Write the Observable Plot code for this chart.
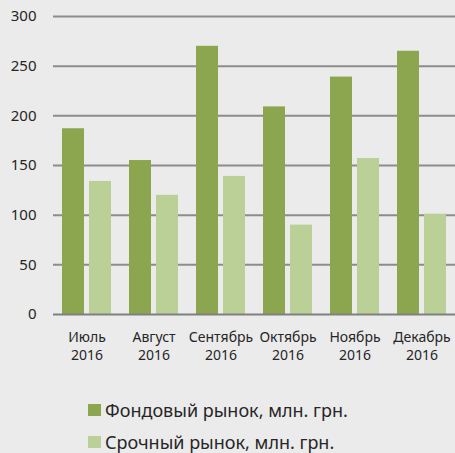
<!DOCTYPE html>
<html>
<head>
<meta charset="utf-8">
<script src="https://cdn.jsdelivr.net/npm/d3@7"></script>
<script src="https://cdn.jsdelivr.net/npm/@observablehq/plot@0.6"></script>
<style>
  html, body { margin: 0; padding: 0; background: #ebebeb; }
  #chart svg { display: block; }
  #legend { padding-top: 19px; padding-left: 88px; font-family: "Noto Sans", sans-serif; font-size: 18px; line-height: 22px; color: #262626; }
  .row { display: flex; align-items: center; height: 32px; }
  .sw { width: 13px; height: 12px; margin-right: 4px; }
</style>
</head>
<body>
<div id="chart"></div>
<div id="legend"></div>
<script>
const months = ["Июль", "Август", "Сентябрь", "Октябрь", "Ноябрь", "Декабрь"];
const year = "2016";
const seriesNames = ["Фондовый рынок, млн. грн.", "Срочный рынок, млн. грн."];
const stockValues = [187, 155, 270, 209, 239, 265];
const futuresValues = [134, 120, 139, 90, 157, 101];
const yTicks = [0, 50, 100, 150, 200, 250, 300];
const colors = ["#8ba64e", "#bbd097"];

const data = months.flatMap((m, i) => [
  {month: m, series: seriesNames[0], value: stockValues[i]},
  {month: m, series: seriesNames[1], value: futuresValues[i]}
]);

const chart = Plot.plot({
  width: 455,
  height: 375,
  marginLeft: 52,
  marginRight: 0,
  marginTop: 16,
  marginBottom: 61,
  style: {background: "#ebebeb", fontFamily: "Noto Sans", color: "#262626"},
  fx: {domain: months, padding: 0, label: null, axis: null},
  x: {domain: seriesNames, paddingInner: 0.196, paddingOuter: 0.298, axis: null},
  y: {domain: [0, 300], axis: null},
  color: {domain: seriesNames, range: colors},
  marks: [
    Plot.ruleY(yTicks.filter(d => d > 0), {stroke: "#8c8c8c", strokeWidth: 2}),
    Plot.barY(data, {fx: "month", x: "series", y: "value", fill: "series"}),
    Plot.ruleY([0], {stroke: "#808080", strokeWidth: 2}),
    Plot.axisY({ticks: yTicks, tickSize: 0, tickPadding: 17, fontSize: 15, label: null}),
    Plot.axisFx({anchor: "bottom", tickSize: 0, tickPadding: 15, fontSize: 14, lineHeight: 1.29, label: null, tickFormat: d => d + "\n" + year})
  ]
});
document.getElementById("chart").append(chart);

const legend = document.getElementById("legend");
seriesNames.forEach((name, i) => {
  const row = document.createElement("div");
  row.className = "row";
  const sw = document.createElement("span");
  sw.className = "sw";
  sw.style.background = colors[i];
  const t = document.createElement("span");
  t.textContent = name;
  row.append(sw, t);
  legend.append(row);
});
</script>
</body>
</html>
